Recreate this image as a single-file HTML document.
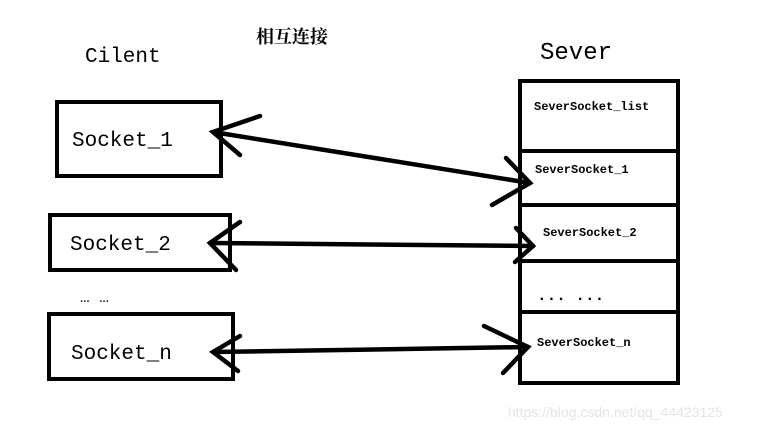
<!DOCTYPE html>
<html><head><meta charset="utf-8"><style>
body{margin:0;background:#fff}
svg{display:block}
text{font-family:"Liberation Mono","Noto Serif CJK SC",monospace;fill:#000}
</style></head><body>
<svg width="761" height="430" viewBox="0 0 761 430" xmlns="http://www.w3.org/2000/svg">
<text x="256" y="43" font-size="18" font-weight="bold" font-family="'Noto Serif CJK SC',serif">相互连接</text>
<text x="85" y="62" font-size="21">Cilent</text>
<text x="540" y="59" font-size="24">Sever</text>
<g fill="none" stroke="#000" stroke-width="4">
<rect x="57" y="102" width="164" height="74"/>
<rect x="50" y="215" width="180" height="55"/>
<rect x="49" y="314" width="184" height="65"/>
<rect x="520" y="81" width="158" height="302"/>
<line x1="520" y1="151" x2="678" y2="151"/>
<line x1="520" y1="205" x2="678" y2="205"/>
<line x1="520" y1="261" x2="678" y2="261"/>
<line x1="520" y1="312" x2="678" y2="312"/>
</g>
<text x="72" y="146" font-size="21">Socket_1</text>
<text x="70" y="250" font-size="21">Socket_2</text>
<text x="71" y="359" font-size="21">Socket_n</text>
<text x="80" y="302" font-size="16">… …</text>
<g font-size="12" font-weight="bold">
<text x="534" y="110">SeverSocket_list</text>
<text x="535" y="173">SeverSocket_1</text>
<text x="543" y="236">SeverSocket_2</text>
<text x="537" y="346">SeverSocket_n</text>
</g>
<text x="537" y="300" font-size="16" font-weight="bold">... ...</text>
<g fill="none" stroke="#000" stroke-width="4.5" stroke-linecap="round">
<line x1="213" y1="132" x2="530" y2="183"/>
<polyline points="260,116 213,132 240,155"/>
<polyline points="506,158 530,183 492,205"/>
<line x1="210" y1="243" x2="533" y2="246"/>
<polyline points="240,222 210,243 236,270"/>
<polyline points="516,228 533,246 515,262"/>
<line x1="213" y1="352" x2="528" y2="347"/>
<polyline points="240,336 213,352 238,371"/>
<polyline points="484,326 528,347 503,373"/>
</g>
<text x="508" y="417" font-size="14" style="fill:#e4e4e4;font-family:'Liberation Sans',sans-serif">https://blog.csdn.net/qq_44423125</text>
</svg>
</body></html>
